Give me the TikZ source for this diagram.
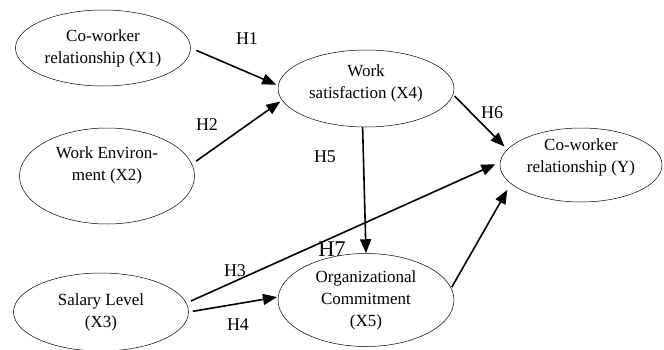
\documentclass[tikz,border=0pt]{standalone}
\usepackage{fontspec}
\setmainfont{Liberation Serif}
\usetikzlibrary{shapes.geometric, arrows.meta}

\begin{document}
\begin{tikzpicture}[x=1pt, y=-1pt, >={Triangle[length=14pt,width=11pt]},
    var/.style={draw, ellipse, line width=0.5pt, inner sep=0pt, align=center,
                font=\fontsize{17}{22}\selectfont},
    hyp/.style={font=\fontsize{18}{20}\selectfont},
    link/.style={->, line width=1.6pt}]
                \useasboundingbox (0,0) rectangle (664,349);

                % variables
                \node[var, minimum width=175pt, minimum height=76pt] (x1) at (103,48) {Co-worker\\relationship (X1)};
                \node[var, minimum width=175pt, minimum height=96pt] (x2) at (107,176) {Work Environ-\\ment (X2)\\[2pt]\mbox{}};
                \node[var, minimum width=175pt, minimum height=78pt] (x3) at (101,312) {Salary Level\\(X3)};
                \node[var, minimum width=176pt, minimum height=77pt] (x4) at (366,88.5) {Work\\satisfaction (X4)\\[-8pt]\mbox{}};
                \node[var, minimum width=176pt, minimum height=93pt] (x5) at (366,300) {Organizational\\Commitment\\(X5)};
                \node[var, minimum width=162pt, minimum height=74pt] (y) at (581,165) {Co-worker\\relationship (Y)\\[-4pt]\mbox{}};

                % hypotheses
                \draw[link, shorten <=6pt, shorten >=2pt] (x1.east) -- (x4.178);
                \draw[link, shorten <=5pt, shorten >=2pt] (x2.8) -- (x4.188);
                \draw[link, shorten <=5pt, shorten >=5pt] (x3.6) -- (y.178);
                \draw[link, shorten <=4pt, shorten >=1pt] (x3.east) -- (x5.178);
                \draw[link] (x4.265) -- (x5.north);
                \draw[link, shorten <=2pt, shorten >=4pt] (x4.-4) -- (y.168);
                \draw[link, shorten <=1pt, shorten >=7pt] (x5.8) -- (y.195);

                \node[hyp] (h1) at (247,39) {H1};
                \node[hyp] (h2) at (207,125) {H2};
                \node[hyp] (h3) at (235,271) {H3};
                \node[hyp] (h4) at (238,325) {H4};
                \node[hyp] (h5) at (325,157) {H5};
                \node[hyp] (h6) at (492,113) {H6};
                \node[font=\fontsize{22.5}{24}\selectfont] (h7) at (332,249) {H7};
            \end{tikzpicture}
\end{document}
